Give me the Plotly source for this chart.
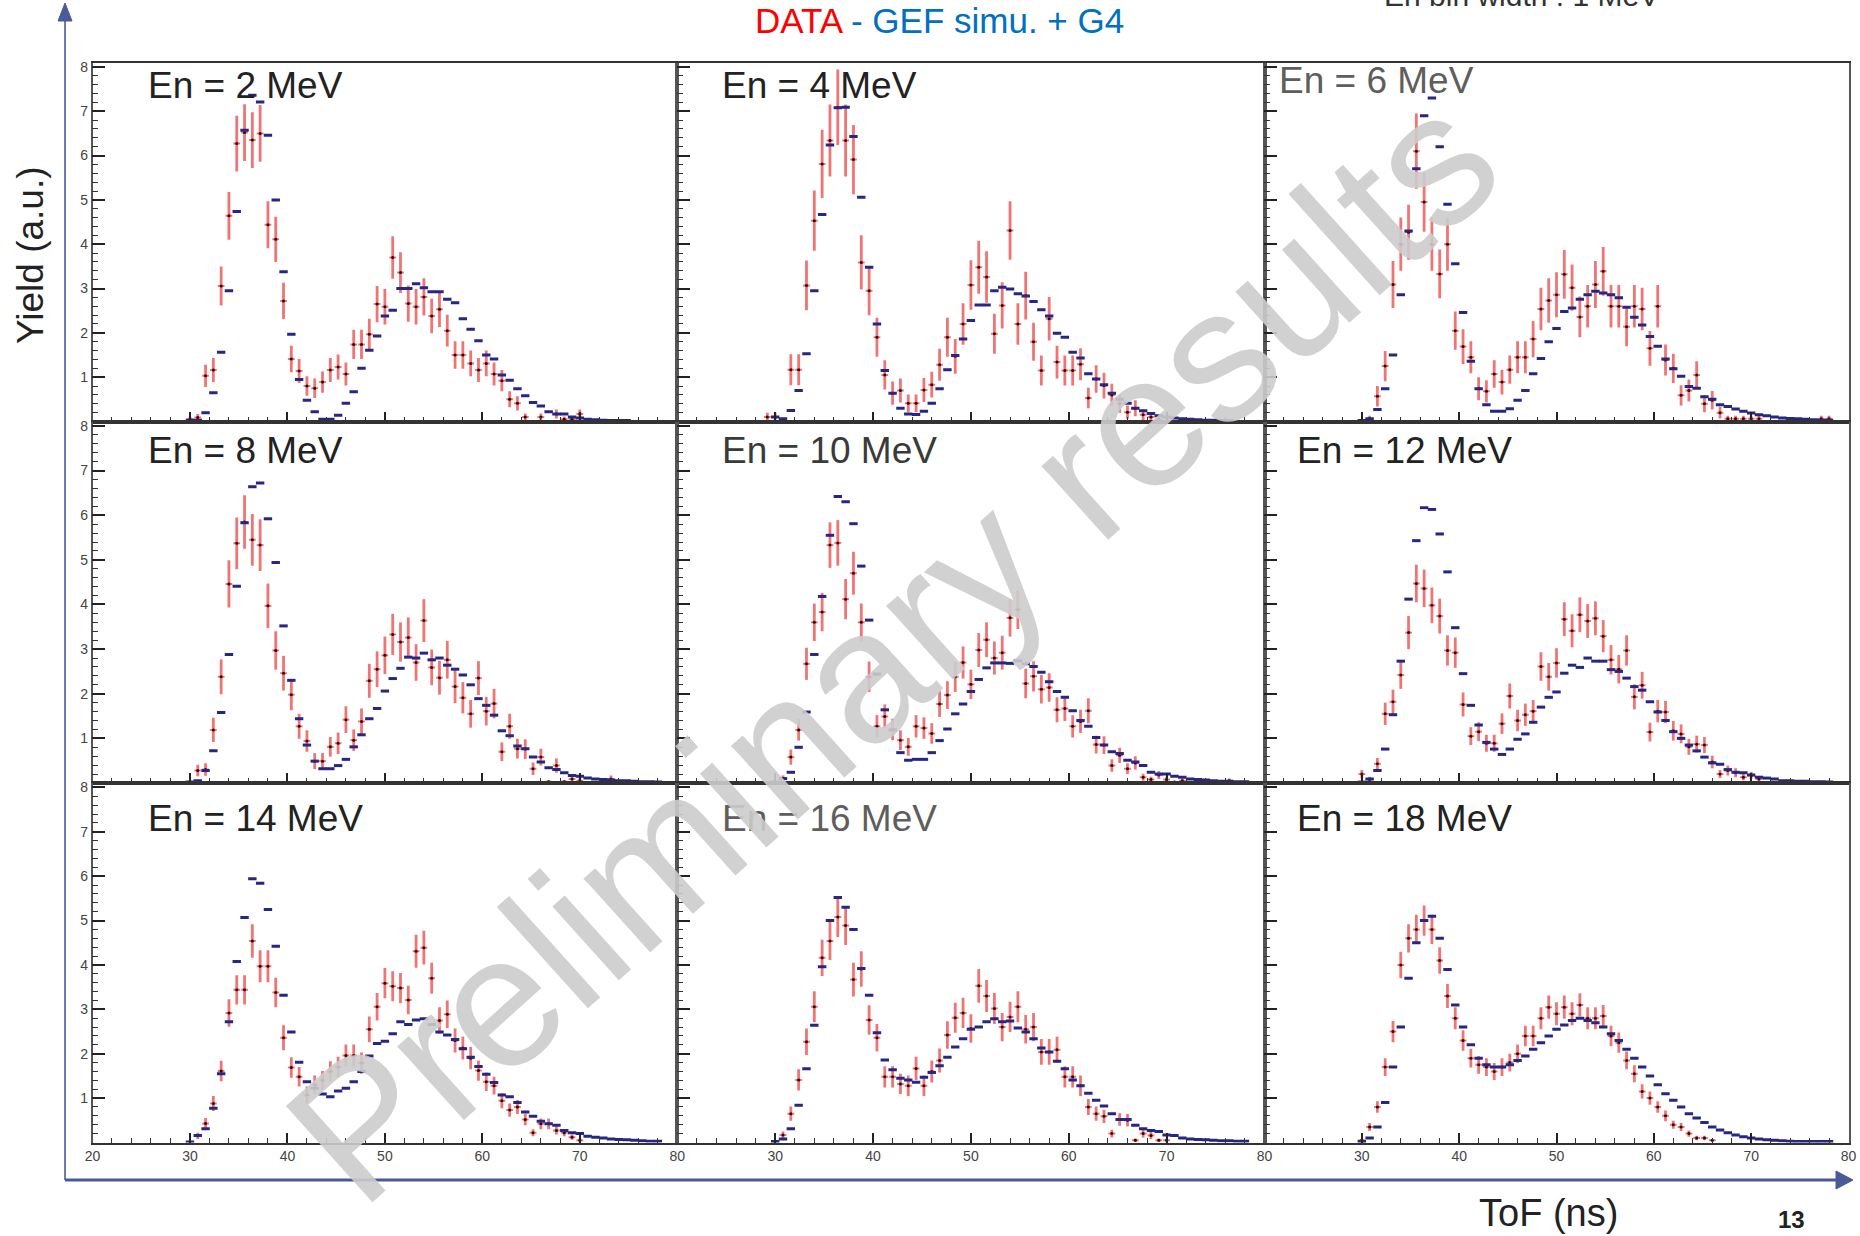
import plotly.graph_objects as go

# ---------------- DATA ----------------
TOF_NS = [29.2, 30.0, 30.8, 31.6, 32.4, 33.2, 34.0, 34.8, 35.6, 36.4,
          37.2, 38.0, 38.8, 39.6, 40.4, 41.2, 42.0, 42.8, 43.6, 44.4,
          45.2, 46.0, 46.8, 47.6, 48.4, 49.2, 50.0, 50.8, 51.6, 52.4,
          53.2, 54.0, 54.8, 55.6, 56.4, 57.2, 58.0, 58.8, 59.6, 60.4,
          61.2, 62.0, 62.8, 63.6, 64.4, 65.2, 66.0, 66.8, 67.6, 68.4,
          69.2, 70.0, 70.8, 71.6, 72.4, 73.2, 74.0, 74.8, 75.6, 76.4,
          77.2, 78.0]

PANEL_TITLES = ["En = 2 MeV", "En = 4 MeV", "En = 6 MeV",
                "En = 8 MeV", "En = 10 MeV", "En = 12 MeV",
                "En = 14 MeV", "En = 16 MeV", "En = 18 MeV"]

N = None
DATA_2 = [N, 0.05, 0.09, 1.03, 1.16, 3.06, 4.64, 6.27, 6.52, 6.35,
          6.50, 4.44, 4.11, 2.72, 1.41, 1.14, 0.80, 0.75, 0.89, 1.16,
          1.23, 1.07, 1.74, 1.74, 1.97, 2.65, 2.59, 3.70, 3.36, 2.66,
          2.59, 2.81, 2.38, 2.53, 2.05, 1.50, 1.50, 1.31, 1.16, 1.31,
          1.07, 0.92, 0.50, 0.41, 0.10, N, 0.10, N, 0.17, 0.05,
          0.05, 0.17, N, N, N, N, N, N, N, N, N, N]
ERR_2 = [N, 0.06, 0.08, 0.25, 0.27, 0.44, 0.54, 0.63, 0.64, 0.63,
         0.64, 0.53, 0.51, 0.41, 0.30, 0.27, 0.22, 0.22, 0.24, 0.27,
         0.28, 0.26, 0.33, 0.33, 0.35, 0.41, 0.40, 0.48, 0.46, 0.41,
         0.40, 0.42, 0.39, 0.40, 0.36, 0.31, 0.31, 0.29, 0.27, 0.29,
         0.26, 0.24, 0.18, 0.16, 0.08, N, 0.08, N, 0.10, 0.06,
         0.06, 0.10, N, N, N, N, N, N, N, N, N, N]
SIM_2 = [N, 0.03, 0.03, 0.20, 0.65, 1.56, 2.95, 4.74, 6.57, 7.36,
         7.21, 6.46, 5.00, 3.38, 1.97, 0.95, 0.48, 0.22, 0.05, 0.05,
         0.14, 0.41, 0.67, 1.20, 1.61, 1.93, 2.38, 2.51, 3.00, 3.00,
         3.11, 3.02, 2.93, 2.93, 2.76, 2.68, 2.32, 2.08, 1.82, 1.50,
         1.41, 1.05, 0.93, 0.74, 0.58, 0.43, 0.35, 0.22, 0.17, 0.17,
         0.10, 0.08, 0.05, 0.04, 0.03, 0.02, 0.02, 0.02, N, N, N, N]

DATA_4 = [0.10, 0.10, N, 1.17, 1.17, 3.07, 4.53, 5.81, 6.34, 7.09,
          6.34, 5.91, 3.59, 2.95, 1.90, 1.05, 0.64, 0.70, 0.41, 0.41,
          0.71, 0.83, 1.28, 1.90, 1.47, 2.20, 3.08, 3.48, 3.26, 1.98,
          2.62, 4.31, 2.20, 2.84, 1.80, 1.15, 2.32, 1.34, 1.15, 1.15,
          1.29, 0.53, 0.96, 0.81, 0.60, 0.40, 0.21, 0.30, 0.15, 0.10,
          0.05, N, N, N, N, N, N, N, N, N, N, N]
ERR_4 = [0.10, 0.10, N, 0.35, 0.35, 0.56, 0.68, 0.77, 0.81, 0.85,
         0.81, 0.78, 0.61, 0.55, 0.44, 0.33, 0.26, 0.27, 0.20, 0.20,
         0.27, 0.29, 0.36, 0.44, 0.39, 0.47, 0.56, 0.60, 0.58, 0.45,
         0.52, 0.66, 0.47, 0.54, 0.43, 0.34, 0.49, 0.37, 0.34, 0.34,
         0.36, 0.23, 0.31, 0.29, 0.25, 0.20, 0.15, 0.18, 0.12, 0.10,
         0.07, N, N, N, N, N, N, N, N, N, N, N]
SIM_4 = [N, 0.10, 0.06, 0.25, 0.70, 1.53, 2.95, 4.67, 6.24, 7.08,
         7.09, 6.43, 5.06, 3.48, 2.20, 1.15, 0.64, 0.30, 0.17, 0.16,
         0.23, 0.41, 0.74, 1.17, 1.49, 1.86, 2.28, 2.63, 2.63, 2.95,
         3.03, 2.99, 2.88, 2.83, 2.71, 2.52, 2.38, 1.99, 1.90, 1.56,
         1.43, 1.08, 0.96, 0.83, 0.64, 0.50, 0.41, 0.30, 0.24, 0.18,
         0.13, 0.10, 0.08, 0.06, 0.05, 0.04, 0.03, 0.03, 0.02, 0.02, N, N]

DATA_6 = [N, N, 0.06, 0.57, 1.25, 3.09, 4.00, 4.27, 6.10, 4.95,
          4.00, 3.33, 4.00, 2.05, 1.69, 1.45, 0.74, 0.68, 1.07, 0.89,
          1.17, 1.45, 1.45, 1.86, 2.54, 2.73, 2.86, 3.32, 3.02, 2.36,
          2.60, 3.09, 3.39, 2.60, 2.60, 2.14, 2.60, 2.54, 1.65, 2.60,
          1.39, 1.20, 0.59, 0.70, 1.05, 0.40, 0.48, 0.20, 0.06, 0.06,
          0.06, 0.06, 0.06, N, N, N, N, N, N, N, 0.06, 0.06]
ERR_6 = [N, N, 0.07, 0.23, 0.34, 0.53, 0.60, 0.62, 0.85, 0.67,
         0.60, 0.55, 0.60, 0.43, 0.39, 0.36, 0.26, 0.25, 0.31, 0.28,
         0.32, 0.36, 0.36, 0.41, 0.48, 0.50, 0.51, 0.55, 0.52, 0.46,
         0.48, 0.53, 0.55, 0.48, 0.48, 0.44, 0.48, 0.48, 0.39, 0.48,
         0.35, 0.33, 0.23, 0.25, 0.31, 0.19, 0.21, 0.13, 0.07, 0.07,
         0.07, 0.07, 0.07, N, N, N, N, N, N, N, 0.07, 0.07]
SIM_6 = [N, 0.02, 0.06, 0.27, 0.74, 1.50, 2.86, 4.30, 5.70, 6.90,
         7.30, 6.20, 4.90, 3.56, 2.46, 1.36, 0.74, 0.38, 0.23, 0.23,
         0.29, 0.48, 0.70, 1.08, 1.42, 1.80, 2.10, 2.48, 2.56, 2.76,
         2.86, 2.94, 2.90, 2.86, 2.79, 2.58, 2.35, 2.18, 1.92, 1.70,
         1.41, 1.19, 1.02, 0.79, 0.75, 0.56, 0.50, 0.38, 0.34, 0.28,
         0.23, 0.19, 0.15, 0.13, 0.10, 0.08, 0.07, 0.06, 0.05, 0.04, 0.03, 0.03]

DATA_8 = [N, N, 0.28, 0.30, 1.19, 2.38, 4.46, 5.37, 5.85, 5.45,
          5.33, 3.97, 2.97, 2.46, 1.98, 1.27, 0.94, 0.49, 0.49, 0.81,
          0.89, 1.42, 0.96, 1.38, 2.29, 2.55, 2.86, 3.33, 3.16, 3.26,
          2.70, 3.64, 2.59, 2.36, 2.76, 2.16, 1.91, 1.55, 2.35, 1.61,
          1.78, 0.70, 1.27, 0.77, 0.76, 0.32, 0.58, 0.03, 0.39, 0.03,
          0.09, 0.05, N, N, N, 0.09, N, N, N, N, N, N]
ERR_8 = [N, N, 0.13, 0.14, 0.27, 0.39, 0.53, 0.58, 0.60, 0.58,
         0.58, 0.50, 0.43, 0.39, 0.35, 0.28, 0.24, 0.18, 0.18, 0.22,
         0.24, 0.30, 0.24, 0.29, 0.38, 0.40, 0.42, 0.46, 0.44, 0.45,
         0.41, 0.48, 0.40, 0.38, 0.42, 0.37, 0.35, 0.31, 0.38, 0.32,
         0.33, 0.21, 0.28, 0.22, 0.22, 0.14, 0.19, 0.04, 0.16, 0.04,
         0.08, 0.06, N, N, N, 0.08, N, N, N, N, N, N]
SIM_8 = [N, 0.02, 0.05, 0.28, 0.72, 1.58, 2.88, 4.41, 5.83, 6.64,
         6.72, 5.92, 4.94, 3.52, 2.30, 1.44, 0.85, 0.49, 0.32, 0.32,
         0.39, 0.53, 0.81, 1.08, 1.44, 1.67, 2.06, 2.34, 2.57, 2.82,
         2.80, 2.91, 2.76, 2.80, 2.64, 2.55, 2.42, 2.20, 1.89, 1.74,
         1.52, 1.17, 1.06, 0.83, 0.77, 0.58, 0.47, 0.34, 0.30, 0.23,
         0.17, 0.15, 0.11, 0.09, 0.08, 0.07, 0.05, 0.05, 0.04, 0.03, 0.03, 0.02]

DATA_10 = [N, N, 0.10, 0.58, 1.19, 2.67, 3.60, 3.83, 5.33, 5.38,
           4.12, 4.70, 3.60, 2.38, 1.27, 1.49, 1.20, 0.96, 0.81, 1.27,
           1.23, 1.11, 1.77, 1.97, 2.38, 2.70, 2.21, 2.98, 3.21, 2.80,
           2.92, 3.70, 3.88, 2.23, 2.39, 2.10, 2.14, 1.64, 1.67, 1.27,
           1.38, 1.62, 0.86, 0.85, 0.39, 0.62, 0.32, 0.45, 0.13, 0.08,
           0.18, 0.08, 0.02, 0.05, N, N, N, N, N, 0.05, N, N]
ERR_10 = [N, N, 0.07, 0.17, 0.24, 0.36, 0.42, 0.43, 0.51, 0.51,
          0.45, 0.48, 0.42, 0.34, 0.25, 0.27, 0.24, 0.22, 0.20, 0.25,
          0.24, 0.23, 0.29, 0.31, 0.34, 0.36, 0.33, 0.38, 0.39, 0.37,
          0.38, 0.42, 0.43, 0.33, 0.34, 0.32, 0.32, 0.28, 0.28, 0.25,
          0.26, 0.28, 0.20, 0.20, 0.14, 0.17, 0.12, 0.15, 0.08, 0.06,
          0.09, 0.06, 0.03, 0.05, N, N, N, N, N, 0.05, N, N]
SIM_10 = [N, 0.02, 0.10, 0.24, 0.80, 1.59, 2.88, 4.18, 5.55, 6.42,
          6.30, 5.81, 4.86, 3.65, 2.44, 1.64, 1.19, 0.68, 0.51, 0.53,
          0.53, 0.68, 0.95, 1.21, 1.55, 1.77, 2.05, 2.32, 2.58, 2.69,
          2.69, 2.68, 2.74, 2.67, 2.61, 2.48, 2.27, 2.05, 1.92, 1.62,
          1.40, 1.27, 1.02, 0.85, 0.70, 0.66, 0.51, 0.47, 0.39, 0.24,
          0.20, 0.20, 0.15, 0.13, 0.09, 0.08, 0.07, 0.05, 0.04, 0.04, 0.03, 0.03]

DATA_12 = [N, 0.20, 0.08, 0.43, 1.55, 1.82, 2.42, 3.37, 4.47, 4.36,
           3.98, 3.74, 2.97, 2.92, 1.76, 1.05, 1.15, 0.89, 0.89, 1.33,
           1.95, 1.40, 1.53, 1.61, 2.61, 2.38, 2.69, 3.67, 3.41, 3.77,
           3.63, 3.69, 3.29, 2.76, 2.55, 2.97, 1.93, 2.19, 1.14, 1.61,
           1.59, 1.17, 1.10, 0.81, 0.87, 0.85, 0.47, 0.20, 0.28, 0.23,
           0.13, 0.17, 0.09, N, N, N, N, N, N, N, N, N]
ERR_12 = [N, 0.09, 0.06, 0.13, 0.25, 0.27, 0.31, 0.37, 0.42, 0.42,
          0.40, 0.39, 0.34, 0.34, 0.27, 0.20, 0.21, 0.19, 0.19, 0.23,
          0.28, 0.24, 0.25, 0.25, 0.32, 0.31, 0.33, 0.38, 0.37, 0.39,
          0.38, 0.38, 0.36, 0.33, 0.32, 0.34, 0.28, 0.30, 0.21, 0.25,
          0.25, 0.22, 0.21, 0.18, 0.19, 0.18, 0.14, 0.09, 0.11, 0.10,
          0.07, 0.08, 0.06, N, N, N, N, N, N, N, N, N]
SIM_12 = [N, 0.02, 0.09, 0.28, 0.76, 1.53, 2.73, 4.12, 5.43, 6.17,
          6.13, 5.58, 4.73, 3.48, 2.45, 1.74, 1.30, 0.91, 0.76, 0.64,
          0.76, 0.98, 1.10, 1.36, 1.70, 1.92, 2.04, 2.46, 2.64, 2.59,
          2.80, 2.73, 2.73, 2.54, 2.50, 2.35, 2.16, 2.08, 1.82, 1.59,
          1.40, 1.15, 1.00, 0.85, 0.72, 0.58, 0.45, 0.42, 0.30, 0.24,
          0.23, 0.18, 0.13, 0.11, 0.09, 0.05, 0.05, 0.04, 0.04, 0.03, 0.03, 0.02]

DATA_14 = [N, N, 0.15, 0.43, 0.88, 1.61, 2.92, 3.44, 3.44, 4.54,
           3.97, 3.97, 3.38, 2.36, 1.69, 1.48, 1.07, 1.30, 1.40, 1.60,
           1.70, 1.96, 1.96, 1.79, 2.55, 3.06, 3.59, 3.52, 3.48, 3.21,
           4.31, 4.39, 3.70, 2.75, 2.89, 2.30, 2.13, 1.90, 1.62, 1.37,
           1.28, 0.94, 0.73, 0.80, 0.52, 0.22, 0.42, 0.42, 0.27, 0.22,
           0.12, 0.05, N, N, N, N, N, N, N, N, N, N]
ERR_14 = [N, N, 0.07, 0.12, 0.17, 0.23, 0.31, 0.33, 0.33, 0.38,
          0.36, 0.36, 0.33, 0.28, 0.23, 0.22, 0.19, 0.21, 0.21, 0.23,
          0.23, 0.25, 0.25, 0.24, 0.29, 0.31, 0.34, 0.34, 0.34, 0.32,
          0.37, 0.38, 0.35, 0.30, 0.31, 0.27, 0.26, 0.25, 0.23, 0.21,
          0.20, 0.17, 0.15, 0.16, 0.13, 0.08, 0.12, 0.12, 0.09, 0.08,
          0.06, 0.04, N, N, N, N, N, N, N, N, N, N]
SIM_14 = [N, 0.01, 0.16, 0.31, 0.77, 1.55, 2.72, 4.08, 5.07, 5.94,
          5.84, 5.25, 4.42, 3.32, 2.49, 1.81, 1.37, 1.22, 1.09, 1.03,
          1.16, 1.22, 1.37, 1.60, 1.95, 2.23, 2.28, 2.45, 2.72, 2.66,
          2.76, 2.79, 2.66, 2.49, 2.42, 2.32, 2.11, 1.92, 1.71, 1.54,
          1.35, 1.07, 1.03, 0.90, 0.69, 0.59, 0.48, 0.42, 0.39, 0.27,
          0.22, 0.20, 0.14, 0.12, 0.10, 0.08, 0.07, 0.06, 0.05, 0.04, 0.03, 0.03]

DATA_16 = [N, N, 0.17, 0.65, 1.41, 2.27, 3.06, 4.16, 4.54, 5.08,
           4.89, 3.67, 3.91, 2.76, 2.36, 1.48, 1.48, 1.32, 1.28, 1.67,
           1.28, 1.60, 1.85, 2.42, 2.81, 2.92, 2.57, 3.53, 3.30, 3.02,
           2.60, 2.83, 3.06, 2.55, 2.60, 2.04, 2.04, 2.09, 1.48, 1.48,
           1.28, 0.80, 0.65, 0.59, 0.20, 0.52, 0.50, 0.05, 0.20, 0.16,
           0.05, 0.05, N, N, N, N, N, N, N, N, N, N]
ERR_16 = [N, N, 0.08, 0.16, 0.24, 0.30, 0.35, 0.41, 0.43, 0.45,
          0.44, 0.38, 0.40, 0.33, 0.31, 0.24, 0.24, 0.23, 0.23, 0.26,
          0.23, 0.25, 0.27, 0.31, 0.34, 0.34, 0.32, 0.38, 0.36, 0.35,
          0.32, 0.34, 0.35, 0.32, 0.32, 0.29, 0.29, 0.29, 0.24, 0.24,
          0.23, 0.18, 0.16, 0.15, 0.09, 0.14, 0.14, 0.04, 0.09, 0.08,
          0.04, 0.04, N, N, N, N, N, N, N, N, N, N]
SIM_16 = [N, 0.02, 0.08, 0.31, 0.84, 1.66, 2.64, 3.96, 5.00, 5.52,
          5.30, 4.80, 3.92, 3.32, 2.47, 1.86, 1.64, 1.45, 1.41, 1.36,
          1.47, 1.58, 1.73, 1.92, 2.15, 2.34, 2.55, 2.60, 2.72, 2.79,
          2.72, 2.74, 2.58, 2.49, 2.34, 2.13, 2.04, 1.83, 1.66, 1.41,
          1.28, 1.11, 0.95, 0.82, 0.65, 0.52, 0.52, 0.39, 0.31, 0.27,
          0.25, 0.17, 0.16, 0.10, 0.08, 0.07, 0.06, 0.05, 0.04, 0.04, 0.03, 0.03]

DATA_18 = [N, 0.05, 0.35, 0.80, 1.70, 2.50, 4.00, 4.60, 4.80, 5.00,
           4.80, 4.10, 3.30, 2.80, 2.30, 1.90, 1.75, 1.70, 1.60, 1.70,
           1.80, 2.00, 2.40, 2.40, 2.80, 3.05, 2.90, 3.05, 2.90, 3.10,
           2.80, 2.80, 2.85, 2.40, 2.25, 1.85, 1.55, 1.15, 1.00, 0.80,
           0.60, 0.40, 0.35, 0.20, 0.10, 0.10, 0.05, N, N, N,
           N, N, N, N, N, N, N, N, N, N, N, N]
ERR_18 = [N, 0.03, 0.09, 0.13, 0.20, 0.24, 0.30, 0.32, 0.33, 0.34,
          0.33, 0.30, 0.27, 0.25, 0.23, 0.21, 0.20, 0.20, 0.19, 0.20,
          0.20, 0.21, 0.23, 0.23, 0.25, 0.26, 0.26, 0.26, 0.26, 0.26,
          0.25, 0.25, 0.25, 0.23, 0.23, 0.20, 0.19, 0.16, 0.15, 0.13,
          0.12, 0.09, 0.09, 0.07, 0.05, 0.05, 0.03, N, N, N,
          N, N, N, N, N, N, N, N, N, N, N, N]
SIM_18 = [N, 0.02, 0.10, 0.35, 0.90, 1.70, 2.60, 3.70, 4.50, 5.00,
          5.10, 4.60, 3.90, 3.10, 2.60, 2.20, 1.90, 1.75, 1.70, 1.70,
          1.75, 1.85, 1.95, 2.10, 2.25, 2.40, 2.55, 2.65, 2.75, 2.80,
          2.75, 2.70, 2.60, 2.45, 2.30, 2.10, 1.90, 1.70, 1.50, 1.30,
          1.10, 0.95, 0.80, 0.65, 0.55, 0.45, 0.35, 0.28, 0.22, 0.17,
          0.13, 0.10, 0.08, 0.06, 0.05, 0.04, 0.03, 0.02, 0.02, 0.02, 0.02, 0.02]

DATA = [DATA_2, DATA_4, DATA_6, DATA_8, DATA_10, DATA_12, DATA_14, DATA_16, DATA_18]
ERRS = [ERR_2, ERR_4, ERR_6, ERR_8, ERR_10, ERR_12, ERR_14, ERR_16, ERR_18]
SIMS = [SIM_2, SIM_4, SIM_6, SIM_8, SIM_10, SIM_12, SIM_14, SIM_16, SIM_18]

X_TICKS_FIRST_COL = [20, 30, 40, 50, 60, 70, 80]
X_TICKS_OTHER_COL = [30, 40, 50, 60, 70, 80]
Y_TICKS = [1, 2, 3, 4, 5, 6, 7, 8]

# ---------------- LAYOUT GEOMETRY ----------------
W, H = 1860, 1236
COL_PX = [(92.5, 677.3), (677.3, 1264.5), (1264.5, 1848.5)]
ROW_PX = [(62.5, 421.5), (421.5, 783.0), (783.0, 1142.5)]
TITLE_POS = [(146, 85), (720, 85), (1277, 81),
             (146, 450), (720, 450), (1295, 450),
             (146, 818), (720, 818), (1295, 818)]
TITLE_COL = ["#222222", "#222222", "#5e5e5e",
             "#222222", "#3a3a3a", "#222222",
             "#222222", "#5e5e5e", "#222222"]


def px(x):
    return x / W


def py(y):
    return 1 - y / H


fig = go.Figure()
layout = dict(width=W, height=H, paper_bgcolor="white", plot_bgcolor="white",
              margin=dict(l=0, r=0, t=0, b=0, autoexpand=False),
              showlegend=False)

TICK_FONT = dict(family="Liberation Sans Narrow, Arial Narrow, sans-serif", size=14, color="#444444")
RED_BAR = "rgba(236,92,92,0.85)"
BLUE = "#262684"

annotations = []
for p in range(9):
    r, c = divmod(p, 3)
    sfx = "" if p == 0 else str(p + 1)
    xa, ya = "x" + sfx, "y" + sfx
    x0, x1 = COL_PX[c]
    y0, y1 = ROW_PX[r]
    bottom = (r == 2)
    xticks = X_TICKS_FIRST_COL if c == 0 else X_TICKS_OTHER_COL
    layout["xaxis" + sfx] = dict(
        domain=[px(x0), px(x1)], anchor=ya, range=[20, 80],
        tickmode="array", tickvals=xticks if bottom else [30, 40, 50, 60, 70],
        ticktext=[str(v) for v in xticks] if bottom else None,
        showticklabels=bottom, ticks="inside", ticklen=10, tickwidth=1.5,
        tickcolor="#222222", tickfont=TICK_FONT,
        minor=dict(tickmode="linear", tick0=20, dtick=2, ticks="inside",
                   ticklen=5, tickwidth=1, tickcolor="#333333"),
        showline=True, linecolor="#333333", linewidth=2, mirror=True,
        showgrid=False, zeroline=False, fixedrange=True)
    layout["yaxis" + sfx] = dict(
        domain=[py(y1), py(y0)], anchor=xa, range=[0, 8.1],
        tickmode="array", tickvals=Y_TICKS,
        showticklabels=(c == 0), ticks="inside", ticklen=13, tickwidth=1.5,
        tickcolor="#222222", tickfont=TICK_FONT,
        minor=dict(tickmode="linear", tick0=0, dtick=0.2, ticks="inside",
                   ticklen=6, tickwidth=1, tickcolor="#333333"),
        showline=True, linecolor="#555555", linewidth=1.5, mirror=True,
        showgrid=False, zeroline=False, fixedrange=True)

    fig.add_trace(go.Scatter(
        x=TOF_NS, y=DATA[p], xaxis=xa, yaxis=ya, mode="markers",
        marker=dict(size=3, color="#3a0000"),
        error_y=dict(type="data", array=ERRS[p], color=RED_BAR, thickness=2.8, width=0),
        error_x=dict(type="constant", value=0.35, color=RED_BAR, thickness=2, width=0),
        hoverinfo="skip"))
    fig.add_trace(go.Scatter(
        x=TOF_NS, y=SIMS[p], xaxis=xa, yaxis=ya, mode="markers",
        marker=dict(symbol="line-ew", size=6, line=dict(width=3, color=BLUE)),
        hoverinfo="skip"))

    tx, ty = TITLE_POS[p]
    annotations.append(dict(
        x=px(tx), y=py(ty), xref="paper", yref="paper", xanchor="left", yanchor="middle",
        text=PANEL_TITLES[p], showarrow=False,
        font=dict(family="Liberation Sans, Arial, sans-serif", size=37, color=TITLE_COL[p])))

# Header texts
annotations.append(dict(
    x=px(939), y=py(20), xref="paper", yref="paper", xanchor="center", yanchor="middle",
    text="<span style='color:#ff0000'>DATA</span><span style='color:#0070c0'> - GEF simu. + G4</span>",
    showarrow=False, font=dict(family="Liberation Sans, Arial, sans-serif", size=35)))
annotations.append(dict(
    x=px(1521), y=py(-4), xref="paper", yref="paper", xanchor="center", yanchor="middle",
    text="En bin width : 1 MeV", showarrow=False,
    font=dict(family="Liberation Sans, Arial, sans-serif", size=30, color="#333333")))
annotations.append(dict(
    x=px(30), y=py(255), xref="paper", yref="paper", xanchor="center", yanchor="middle",
    text="Yield (a.u.)", textangle=-90, showarrow=False,
    font=dict(family="Liberation Sans, Arial, sans-serif", size=37, color="#222222")))
annotations.append(dict(
    x=px(1548), y=py(1213), xref="paper", yref="paper", xanchor="center", yanchor="middle",
    text="ToF (ns)", showarrow=False,
    font=dict(family="Liberation Sans Narrow, Arial Narrow, sans-serif", size=38, color="#222222")))
annotations.append(dict(
    x=px(1791), y=py(1219), xref="paper", yref="paper", xanchor="center", yanchor="middle",
    text="<b>13</b>", showarrow=False,
    font=dict(family="Liberation Sans Narrow, Arial Narrow, sans-serif", size=24, color="#222222")))
# Watermark
annotations.append(dict(
    x=px(892), y=py(647), xref="paper", yref="paper", xanchor="center", yanchor="middle",
    text="Preliminary results", textangle=-42, showarrow=False,
    font=dict(family="Liberation Sans, Arial, sans-serif", size=188, color="rgba(204,204,204,0.9)")))

AX_COL = "#4a5a98"
shapes = [
    dict(type="line", xref="paper", yref="paper", x0=px(65), x1=px(65), y0=py(1180), y1=py(18),
         line=dict(color=AX_COL, width=1.6)),
    dict(type="path", xref="paper", yref="paper",
         path=f"M {px(65)},{py(3)} L {px(58)},{py(21)} L {px(72)},{py(21)} Z",
         fillcolor=AX_COL, line=dict(color=AX_COL, width=1)),
    dict(type="line", xref="paper", yref="paper", x0=px(65), x1=px(1838), y0=py(1180), y1=py(1180),
         line=dict(color=AX_COL, width=3)),
    dict(type="path", xref="paper", yref="paper",
         path=f"M {px(1853)},{py(1180)} L {px(1836)},{py(1171)} L {px(1836)},{py(1189)} Z",
         fillcolor=AX_COL, line=dict(color=AX_COL, width=1)),
]

layout["annotations"] = annotations
layout["shapes"] = shapes
fig.update_layout(**layout)
fig.write_html("out.html", config={"displayModeBar": False},
               post_script="document.body.style.margin='0px';document.body.style.overflow='hidden';")
